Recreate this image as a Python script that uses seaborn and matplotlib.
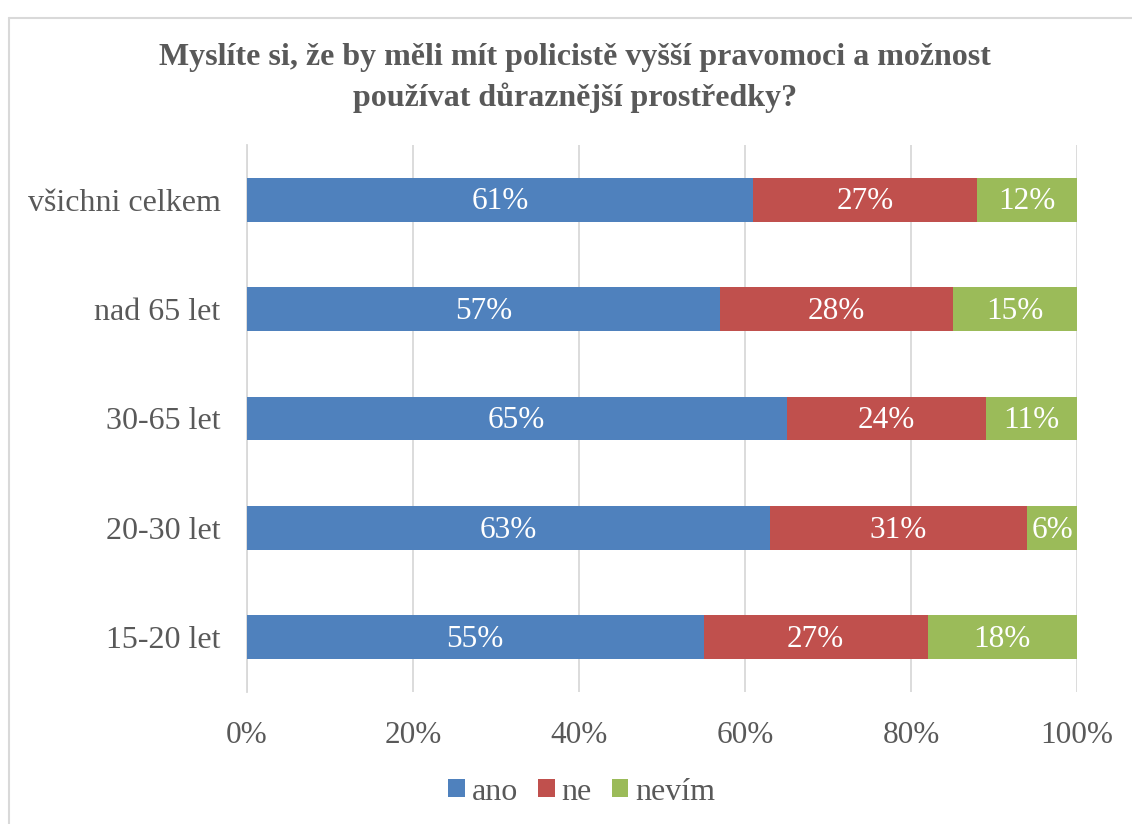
import matplotlib
matplotlib.use("Agg")
import matplotlib.pyplot as plt
from matplotlib.patches import Patch
from matplotlib.lines import Line2D
import seaborn as sns
import pandas as pd

categories = ["všichni celkem", "nad 65 let", "30-65 let", "20-30 let", "15-20 let"]
ano = [61, 57, 65, 63, 55]
ne = [27, 28, 24, 31, 27]
nevim = [12, 15, 11, 6, 18]
series_names = ["ano", "ne", "nevím"]
xticks = [0, 20, 40, 60, 80, 100]
xtick_labels = ["0%", "20%", "40%", "60%", "80%", "100%"]
title = "Myslíte si, že by měli mít policistě vyšší pravomoci a možnost\npoužívat důraznější prostředky?"

colors = ["#4F81BD", "#C0504D", "#9BBB59"]
gray = "#595959"
grid_c = "#D9D9D9"

sns.set_theme(style="white")
plt.rcParams["font.family"] = ["Liberation Serif", "DejaVu Serif"]

df = pd.DataFrame({"cat": categories, "ano": ano, "ne": ne, "nevim": nevim})
df["c1"] = df["ano"]
df["c2"] = df["ano"] + df["ne"]
df["c3"] = df["ano"] + df["ne"] + df["nevim"]

fig = plt.figure(figsize=(11.32, 8.24), dpi=100)
ax = fig.add_axes([247 / 1132, 1 - 692 / 824, (1077 - 247) / 1132, (692 - 145) / 824])

for col, c in zip(["c3", "c2", "c1"], colors[::-1]):
    sns.barplot(data=df, x=col, y="cat", order=categories, color=c, width=0.4,
                orient="h", ax=ax, saturation=1, zorder=3, linewidth=0)

for i, cat in enumerate(categories):
    lefts = [0, ano[i], ano[i] + ne[i]]
    vals = [ano[i], ne[i], nevim[i]]
    for l, v in zip(lefts, vals):
        ax.text(l + v / 2, i + 0.02, f"{v}%", ha="center", va="center", color="white",
                fontsize=22.5, zorder=5)

ax.set_xlim(0, 100)
ax.set_ylim(4.5, -0.5)
ax.set_xticks(xticks)
ax.set_xticklabels(xtick_labels)
ax.set_xlabel("")
ax.set_ylabel("")
ax.tick_params(axis="x", length=0, pad=21, labelsize=22.5, labelcolor=gray)
ax.tick_params(axis="y", length=0, pad=19, labelsize=23, labelcolor=gray)
ax.xaxis.grid(True, color=grid_c, linewidth=1.3, zorder=0)
ax.set_axisbelow(True)
for s in ["top", "right", "bottom"]:
    ax.spines[s].set_visible(False)
ax.spines["left"].set_color(grid_c)
ax.spines["left"].set_linewidth(1.3)

fig.text(0.508, 1 - 78 / 824, title, ha="center", va="center", fontsize=23,
         fontweight="bold", color=gray, linespacing=1.42)

handles = [Patch(facecolor=c, edgecolor="none") for c in colors]
leg = fig.legend(handles, series_names, loc="center", bbox_to_anchor=(0.514, 1 - 792 / 824),
                 ncol=3, frameon=False, fontsize=23, handlelength=0.52, handleheight=0.52,
                 handletextpad=0.22, columnspacing=0.62)
for t in leg.get_texts():
    t.set_color(gray)

# outer frame lines
fig.add_artist(Line2D([8.5 / 1132, 1], [1 - 17.5 / 824, 1 - 17.5 / 824], color=grid_c,
                      linewidth=1.5, transform=fig.transFigure))
fig.add_artist(Line2D([8.5 / 1132, 8.5 / 1132], [0, 1 - 17.5 / 824], color=grid_c,
                      linewidth=1.5, transform=fig.transFigure))

fig.savefig("out.png", dpi=100)
